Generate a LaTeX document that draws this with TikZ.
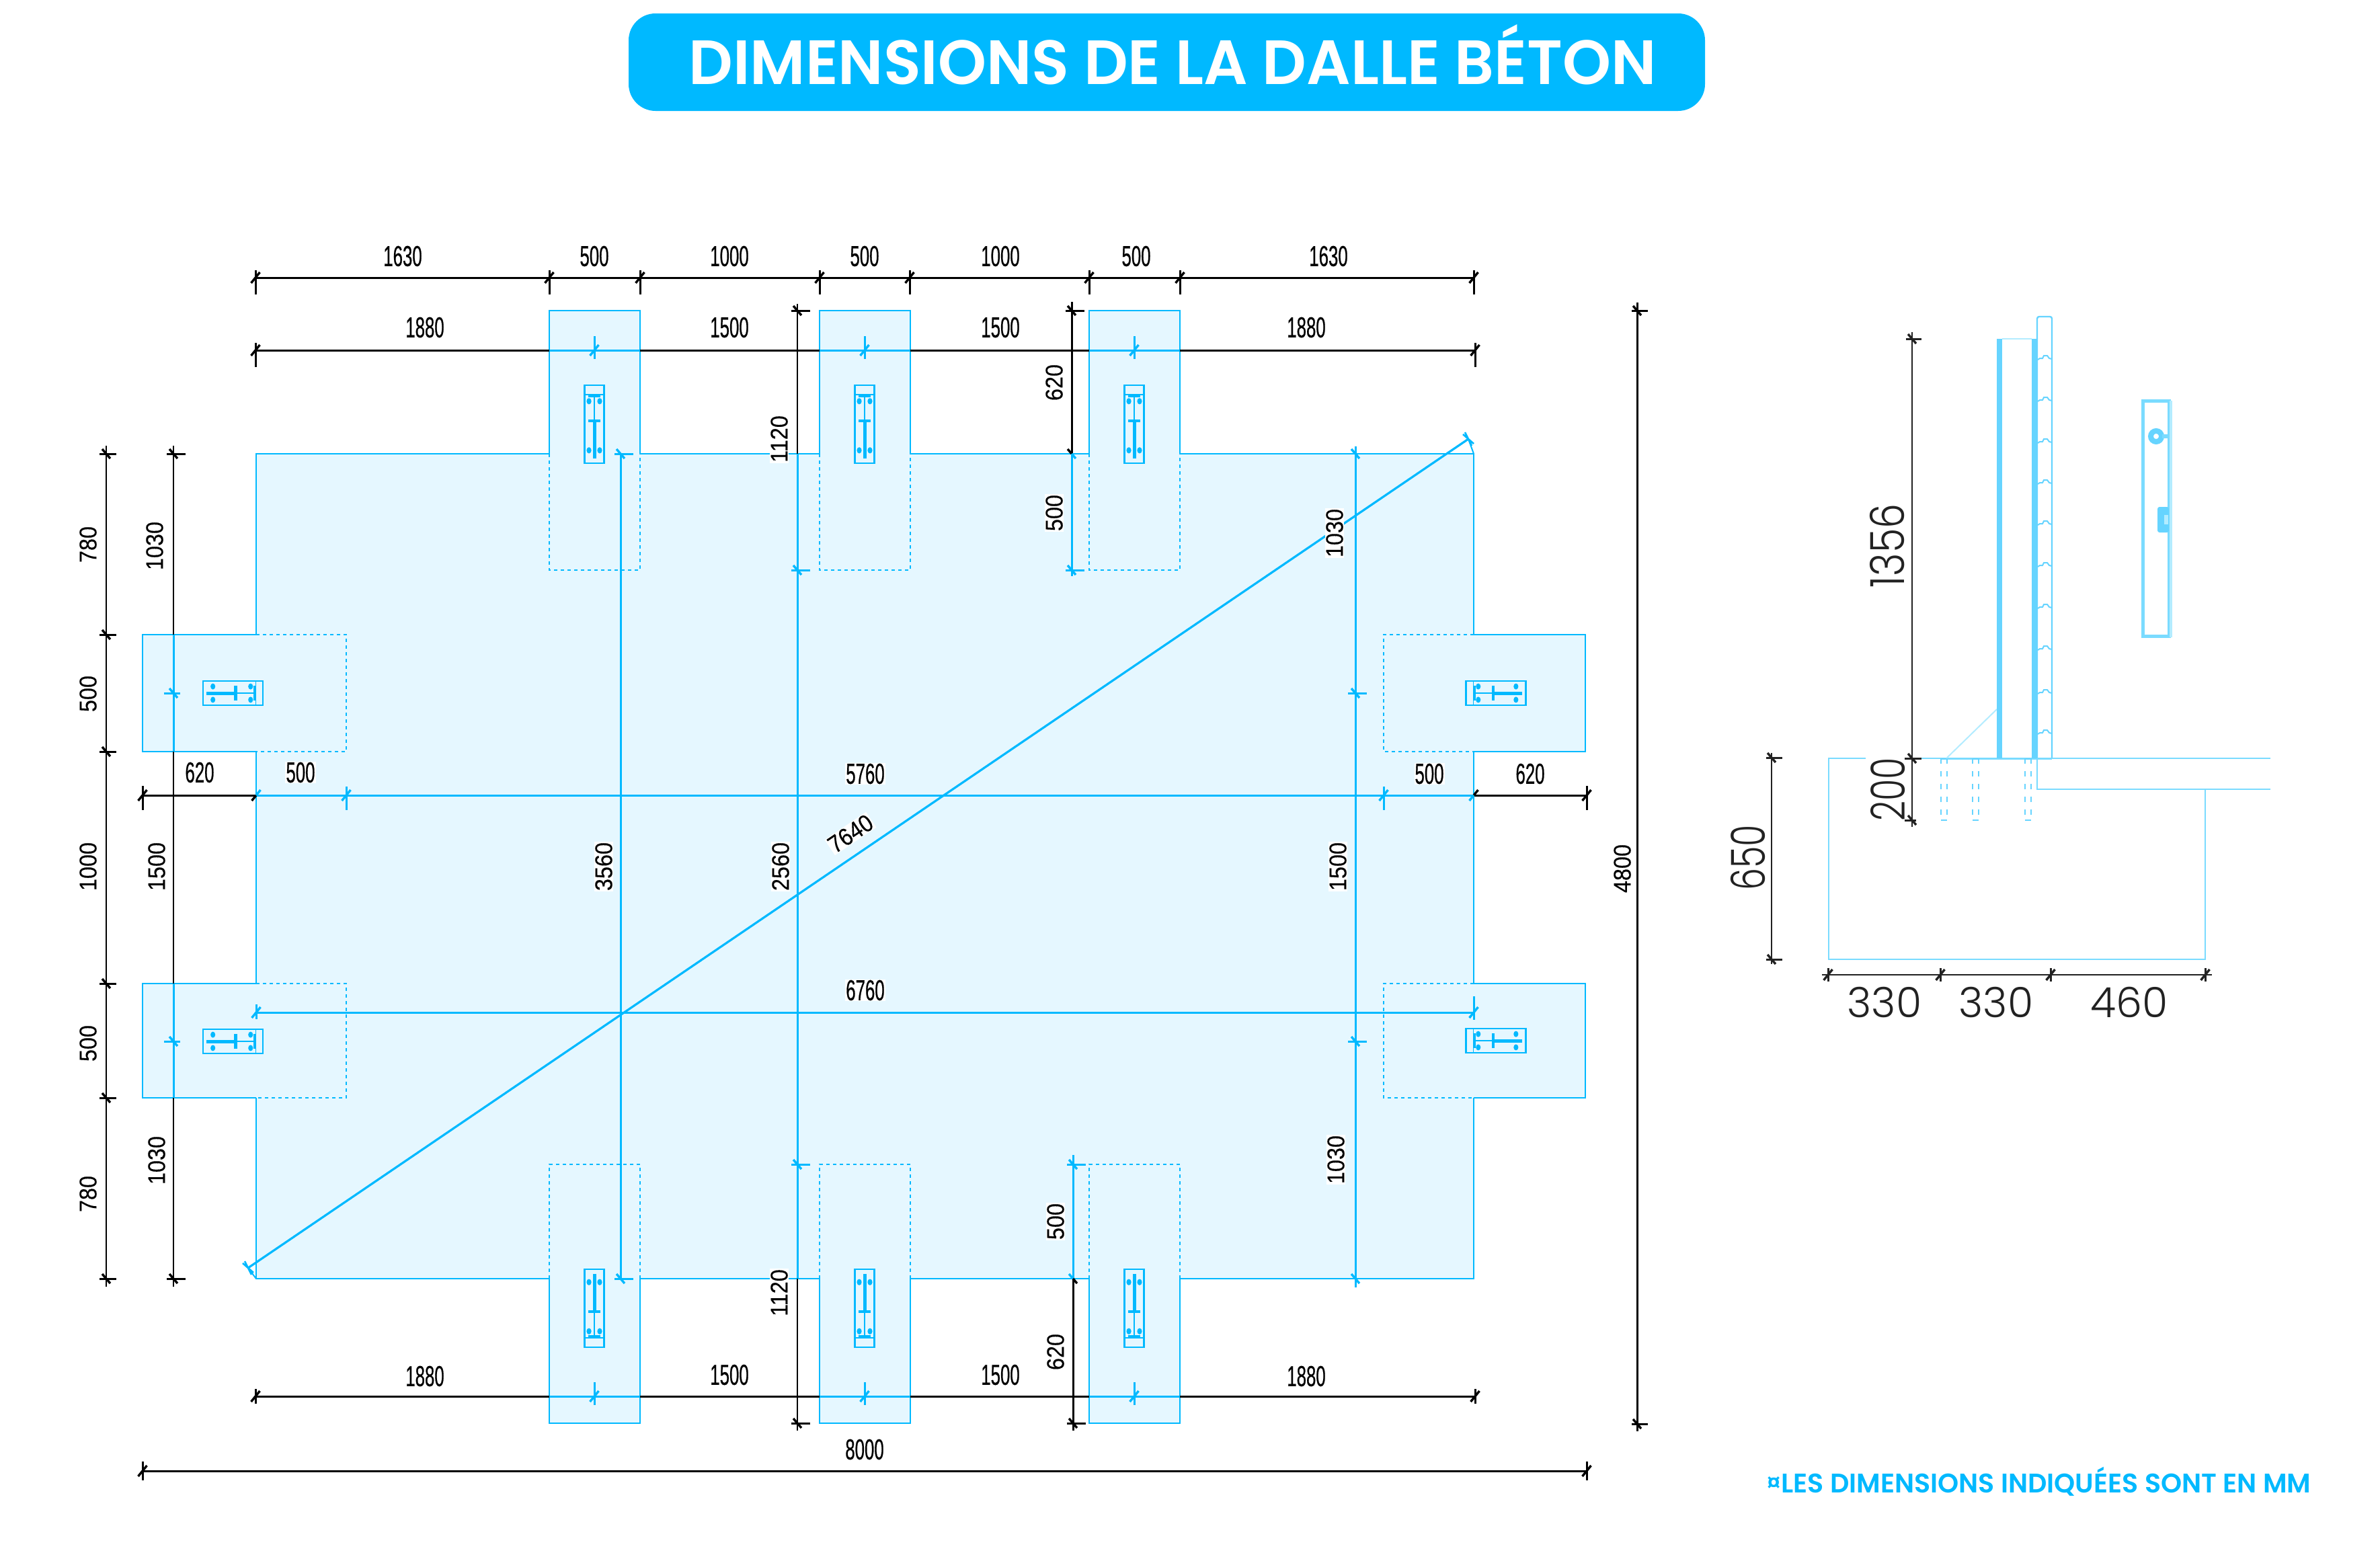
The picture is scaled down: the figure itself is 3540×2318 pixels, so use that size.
\documentclass[tikz,border=0pt]{standalone}
\usepackage{fontspec}
\setmainfont{Liberation Sans}
\newfontfamily\hfont[FakeStretch=0.6,FakeBold=0.5]{Liberation Sans}
\newfontfamily\vfont[FakeStretch=0.9,FakeBold=0.25]{Liberation Sans}
\newfontfamily\titlefont[FakeStretch=0.985]{Poppins SemiBold}
\newfontfamily\footfont[FakeStretch=0.99]{Poppins SemiBold}
\newfontfamily\sidefont{Poppins Light}
\newfontfamily\sidevfont[FakeStretch=0.75]{Poppins Light}
\newfontfamily\sidevfontb[FakeStretch=0.84]{Poppins Light}
\definecolor{bl}{HTML}{00B9FF}
\definecolor{slabfill}{HTML}{E5F7FF}
\definecolor{ink}{HTML}{000000}
\definecolor{sideink}{HTML}{222222}
\definecolor{sb}{HTML}{66D4FF}
\definecolor{sl}{HTML}{7ADBFF}
\definecolor{slt}{HTML}{B3ECFF}
\newcounter{labno}
\tikzset{
  hlab/.style={inner sep=1pt,text=black,font=\hfont\fontsize{43}{50}\selectfont},
  vlab/.style={inner sep=1pt,text=black,rotate=90,font=\vfont\fontsize{36}{42}\selectfont},
  halo/.style={fill=white},
  dimk/.style={ink,line width=3pt},
  dimv/.style={ink,line width=2.8pt},
  dimb/.style={bl,line width=3pt},
  edge/.style={bl,line width=2.8pt,line join=miter},
  dashedge/.style={bl,line width=2.8pt,dash pattern=on 5pt off 5pt},
  sideline/.style={sl,line width=2pt},
  sidedim/.style={sideink,line width=2pt},
  sidelab/.style={inner sep=0pt,text=sideink,font=\sidefont\fontsize{62}{70}\selectfont},
  sidevlab/.style={inner sep=0pt,text=sideink,rotate=90,font=\sidevfont\fontsize{70}{80}\selectfont},
  plateln/.style={bl,line width=2.8pt},
}
\newcommand\Lh[4][]{\stepcounter{labno}\node[hlab,#1] (lab\thelabno) at (#2,#3) {#4};}
\newcommand\Lv[4][]{\stepcounter{labno}\node[vlab,#1] (lab\thelabno) at (#2,#3) {#4};}
% horizontal dimension tick: colour, x, y, up, down
\newcommand\Th[5]{\draw[#1,line width=3pt] (#2,#3)+(0,-#4)--+(0,#5);\draw[#1,line width=3.4pt] (#2,#3)+(-6.5,8)--+(6.5,-8);}
% vertical dimension tick: colour, x, y, left, right
\newcommand\Tv[5]{\draw[#1,line width=3pt] (#2,#3)+(-#4,0)--+(#5,0);\draw[#1,line width=3.4pt] (#2,#3)+(-6,-7)--+(6,7);}
% plate: centre x, y, axis vector (half length), width vector (half width), in px
\newcommand\Plate[6]{%
\begin{scope}[shift={(#1,#2)},x={(#3pt,#4pt)},y={(#5pt,#6pt)}]
  \draw[plateln] (-1,-1) rectangle (1,1);
  \draw[bl,line width=5pt] (-.88,0)--(.09,0);
  \draw[bl,line width=2.8pt] (.09,0)--(.72,0);
  \draw[bl,line width=4.5pt] (.09,-.62)--(.09,.62);
  \draw[bl,line width=4pt] (.72,-.62)--(.72,.62);
  \draw[bl,line width=1.4pt] (.76,-1)--(.76,1);
  \foreach \a/\b in {-.67/-.55,-.67/.55,.59/-.55,.59/.55}{
    \fill[bl] (\a,\b) circle [x radius=.08,y radius=.25];
  }
\end{scope}}
\newcommand\Bump[1]{\draw[sb,line width=2pt] (3031,#1+3)--(3034,#1+1)--(3038,#1+1)--(3040,#1-3)--(3045,#1-3)--(3048,#1+1)--(3052,#1+2);}
\newcommand\Pile[1]{%
  \draw[sb,line width=2.4pt,dash pattern=on 8pt off 11pt] (#1,1128)--(#1,1212);
  \draw[sb,line width=2.4pt,dash pattern=on 8pt off 11pt] (#1+9,1128)--(#1+9,1212);
  \draw[sb,line width=2pt] (#1,1129)--(#1+9,1129);
  \draw[sb,line width=2pt] (#1,1220)--(#1+9,1220);}
\begin{document}
\begin{tikzpicture}[x=1pt,y=-1pt]
\useasboundingbox (0,0) rectangle (3540,2318);
\fill[white] (0,0) rectangle (3540,2318);
% title
\fill[bl,rounded corners=40pt] (935,20) rectangle (2536,165);
\node[inner sep=0pt,anchor=base,text=white,font=\titlefont\fontsize{93}{100}\selectfont] (title) at (1744,125) {DIMENSIONS DE LA DALLE BÉTON};
% slab
\draw[edge,fill=slabfill]
 (381,675)--(817,675)--(817,462)--(952,462)--(952,675)--(1219,675)--(1219,462)--(1354,462)--(1354,675)
 --(1620,675)--(1620,462)--(1755,462)--(1755,675)--(2192,675)--(2192,944)--(2358,944)--(2358,1118)--(2192,1118)
 --(2192,1463)--(2358,1463)--(2358,1633)--(2192,1633)--(2192,1902)--(1755,1902)--(1755,2117)--(1620,2117)--(1620,1902)
 --(1354,1902)--(1354,2117)--(1219,2117)--(1219,1902)--(952,1902)--(952,2117)--(817,2117)--(817,1902)--(381,1902)
 --(381,1633)--(212,1633)--(212,1463)--(381,1463)--(381,1118)--(212,1118)--(212,944)--(381,944)--cycle;
\fill[slabfill] (381,675) rectangle (2192,1902);
\draw[edge] (381,675)--(817,675) (952,675)--(1219,675) (1354,675)--(1620,675) (1755,675)--(2192,675)
 (381,1902)--(817,1902) (952,1902)--(1219,1902) (1354,1902)--(1620,1902) (1755,1902)--(2192,1902)
 (381,675)--(381,944) (381,1118)--(381,1463) (381,1633)--(381,1902)
 (2192,675)--(2192,944) (2192,1118)--(2192,1463) (2192,1633)--(2192,1902);
% dashed overlaps
\foreach \xa/\xb in {817/952,1219/1354,1620/1755}{
  \draw[dashedge] (\xa,675)--(\xa,848)--(\xb,848)--(\xb,675);
  \draw[dashedge] (\xa,1902)--(\xa,1732)--(\xb,1732)--(\xb,1902);
}
\draw[dashedge] (381,944)--(515,944)--(515,1118)--(381,1118);
\draw[dashedge] (381,1463)--(515,1463)--(515,1633)--(381,1633);
\draw[dashedge] (2192,944)--(2058,944)--(2058,1118)--(2192,1118);
\draw[dashedge] (2192,1463)--(2058,1463)--(2058,1633)--(2192,1633);
% plates
\Plate{884}{631}{0}{58}{14.5}{0}
\Plate{1286}{631}{0}{58}{14.5}{0}
\Plate{1687}{631}{0}{58}{14.5}{0}
\Plate{884}{1946}{0}{-58}{14.5}{0}
\Plate{1286}{1946}{0}{-58}{14.5}{0}
\Plate{1687}{1946}{0}{-58}{14.5}{0}
\Plate{346.5}{1031}{44.5}{0}{0}{18}
\Plate{346.5}{1549}{44.5}{0}{0}{18}
\Plate{2225}{1031}{-44.5}{0}{0}{18}
\Plate{2225}{1548}{-44.5}{0}{0}{18}
% top row 1
\draw[dimk] (380,413)--(2192,413);
\foreach \x in {380,817,952,1219,1353,1620,1755,2192}{\Th{ink}{\x}{413}{11}{25}}
\Lh{599}{381}{1630}\Lh{884}{381}{500}\Lh{1085}{381}{1000}\Lh{1286}{381}{500}\Lh{1488}{381}{1000}\Lh{1690}{381}{500}\Lh{1976}{381}{1630}
% top row 2
\draw[dimk] (380,521)--(2194,521);
\draw[dimb] (817,521)--(952,521) (1219,521)--(1354,521) (1620,521)--(1755,521);
\Th{ink}{380}{521}{11}{25}\Th{ink}{2194}{521}{11}{25}
\foreach \x in {884,1286,1687}{\Th{bl}{\x}{521}{21}{13}}
\Lh{632}{487}{1880}\Lh{1085}{487}{1500}\Lh{1488}{487}{1500}\Lh{1943}{487}{1880}
% bottom row 1880
\draw[dimk] (380,2077)--(2194,2077);
\draw[dimb] (817,2077)--(952,2077) (1219,2077)--(1354,2077) (1620,2077)--(1755,2077);
\Th{ink}{380}{2077}{11}{11}\Th{ink}{2194}{2077}{11}{11}
\foreach \x in {884,1286,1687}{\Th{bl}{\x}{2077}{21}{13}}
\Lh{632}{2047}{1880}\Lh{1085}{2045}{1500}\Lh{1488}{2045}{1500}\Lh{1943}{2047}{1880}
% overall 8000
\draw[dimk] (212,2188)--(2360,2188);
\Th{ink}{212}{2188}{14}{14}\Th{ink}{2360}{2188}{14}{14}
\Lh{1286}{2156}{8000}
% row 1183
\draw[dimk] (212,1183)--(381,1183) (2192,1183)--(2360,1183);
\draw[dimb] (381,1183)--(2192,1183);
\Th{ink}{212}{1183}{14}{22}\Th{ink}{2360}{1183}{14}{22}
\draw[ink,line width=3.4pt] (381,1183)+(-6.5,8)--+(0,0);\draw[bl,line width=3.4pt] (381,1183)+(0,0)--+(6.5,-8);
\Th{bl}{515}{1183}{13}{22}\Th{bl}{2058}{1183}{13}{22}
\draw[ink,line width=3.4pt] (2192,1183)+(0,0)--+(6.5,-8);\draw[bl,line width=3.4pt] (2192,1183)+(-6.5,8)--+(0,0);
% row 6760
\draw[dimb] (381,1506)--(2192,1506);
\Th{bl}{381}{1506}{12}{10}\Th{bl}{2192}{1506}{24}{11}
% left dims
\draw[dimv] (158,663)--(158,1914);
\foreach \y in {675,944,1118,1463,1633,1902}{\Tv{ink}{158}{\y}{10}{15}}
\draw[dimv] (258,663)--(258,1914);
\draw[bl,line width=3pt] (258,944)--(258,1118) (258,1463)--(258,1633);
\Tv{ink}{258}{675}{10}{18}\Tv{ink}{258}{1902}{10}{18}
\Tv{bl}{258}{1031}{14}{10}\Tv{bl}{258}{1549}{14}{10}
% column 923 (3560)
\draw[dimb] (923,675)--(923,1902);
\Tv{bl}{923}{675}{9}{19}\Tv{bl}{923}{1902}{9}{19}
% column 1186 (1120 / 2560)
\draw[dimv] (1186,452)--(1186,675) (1186,1902)--(1186,2128);
\draw[bl,line width=3pt] (1186,675)--(1186,1902);
\Tv{ink}{1186}{462}{9}{19}\Tv{ink}{1186}{2117}{9}{19}
\Tv{bl}{1186}{848}{9}{19}\Tv{bl}{1186}{1732}{9}{19}
% column 1594 (620/500)
\draw[ink,line width=3pt] (1594,449)--(1594,675) (1596,1902)--(1596,2128);
\draw[bl,line width=3pt] (1594,675)--(1594,857) (1596,1718)--(1596,1902);
\Tv{ink}{1594}{462}{9}{19}\Tv{ink}{1596}{2117}{9}{19}
\Tv{bl}{1594}{848}{9}{19}\Tv{bl}{1596}{1732}{9}{19}
\draw[ink,line width=3.4pt] (1594,675)+(-6,-7)--+(0,0);\draw[bl,line width=3.4pt] (1594,675)+(0,0)--+(6,7);
\draw[bl,line width=3.4pt] (1596,1902)+(-6,-7)--+(0,0);\draw[ink,line width=3.4pt] (1596,1902)+(0,0)--+(6,7);
% column 2016
\draw[dimb] (2016,664)--(2016,1915);
\draw[bl,line width=3.4pt] (2016,675)+(-6,-7)--+(6,7) (2016,1902)+(-6,-7)--+(6,7);
\Tv{bl}{2016}{1031}{11}{17}\Tv{bl}{2016}{1549}{11}{17}
% far right
\draw[ink,line width=3pt] (2435,450)--(2435,2129);
\Tv{ink}{2435}{462}{8}{16}\Tv{ink}{2435}{2118}{8}{16}
% diagonal
\draw[bl,line width=3.2pt] (369,1886)--(2184,653);
\draw[bl,line width=2pt] (2184,653)--(2192,675) (369,1886)--(381,1902);
\draw[bl,line width=2.6pt] (2184,653)+(-5,-10)--+(5,10) (2184,653)+(-8,-7)--+(8,7);
\draw[bl,line width=2.6pt] (369,1886)+(-5,-10)--+(5,10) (369,1886)+(-8,-7)--+(8,7);
% labels in the plan
\Lv{131}{810}{780}\Lv{131}{1032}{500}\Lv{131}{1289}{1000}\Lv{131}{1552}{500}\Lv{131}{1776}{780}
\Lv{230}{812}{1030}\Lv{233}{1289}{1500}\Lv{233}{1726}{1030}
\Lv[halo]{1159}{653}{1120}\Lv[halo]{1159}{1923}{1120}\Lv[halo]{1161}{1289}{2560}
\Lv[halo]{898}{1289}{3560}
\Lv{1568}{569}{620}\Lv[halo]{1568}{763}{500}\Lv[halo]{1570}{1817}{500}\Lv{1570}{2011}{620}
\Lv[halo]{1985}{793}{1030}\Lv[halo]{1990}{1289}{1500}\Lv[halo]{1987}{1725}{1030}
\Lv{2413}{1292}{4800}
\Lh{297}{1149}{620}\Lh[halo]{447}{1149}{500}\Lh[halo]{1287}{1151}{5760}\Lh[halo]{2126}{1151}{500}\Lh{2276}{1151}{620}
\Lh[halo]{1287}{1473}{6760}
\node[inner sep=1pt,text=black,fill=white,rotate=34,font=\vfont\fontsize{36}{42}\selectfont] (lab7640) at (1265,1240) {7640};
% side view: outline
\draw[sideline] (2775,1128)--(2720,1128)--(2720,1427)--(3280,1427)--(3280,1174);
\draw[sideline] (2858,1128)--(3377,1128);
\draw[sideline] (3030,1128)--(3030,1174)--(3377,1174);
\draw[sl,line width=3pt] (2887,1128)--(3052,1128);
\draw[slt,line width=2pt] (2895,1128)--(2970,1055);
\fill[sb] (2970,504) rectangle (2978,1128);
\fill[sb] (3022,504) rectangle (3030,1128);
\draw[slt,line width=2pt] (2978,504)--(3022,504);
\draw[sb,line width=2.4pt,rounded corners=3pt] (3030,1127)--(3030,471)--(3052,471)--(3052,1127);
\foreach \y in {532,594,656,717,778,840,902,964,1029,1089}{\Bump{\y}}
\Pile{2887}\Pile{2934}\Pile{3012}
% side elevation
\draw[sl,line width=5pt] (3187,596) rectangle (3226,946);
\draw[slt,line width=4pt] (3229,596)--(3229,948);
\draw[sb,line width=8pt] (3207,649) circle (8);
\draw[sl,line width=6pt] (3216,649)--(3226,649);
\fill[sb,rounded corners=3pt] (3209,754) rectangle (3226,792);
\fill[slt] (3219,766) rectangle (3225,780);
% side dims
\draw[sidedim] (2844,494)--(2844,1230);
\Tv{sideink}{2844}{504}{9}{14}\Tv{sideink}{2844}{1128}{11}{14}\Tv{sideink}{2844}{1220}{11}{6}
\draw[sidedim] (2635,1120)--(2635,1434);
\Tv{sideink}{2635}{1127}{8}{16}\Tv{sideink}{2635}{1427}{8}{16}
\draw[sidedim] (2710,1450)--(3290,1450);
\Th{sideink}{2719}{1450}{10}{10}\Th{sideink}{2886}{1450}{10}{10}\Th{sideink}{3050}{1450}{10}{10}\Th{sideink}{3280}{1450}{10}{10}
\node[sidelab] (side330a) at (2803,1491) {330};
\node[sidelab] (side330b) at (2969,1491) {330};
\node[sidelab] (side460) at (3167,1491) {460};
\node[sidevlab,font=\sidevfontb\fontsize{70}{80}\selectfont] (side1356) at (2807,812) {1356};
\node[sidevlab] (side200) at (2808,1174) {200};
\node[sidevlab] (side650) at (2600,1276) {650};
% footer
\node[inner sep=0pt,anchor=base west,text=bl,font=\footfont\fontsize{40}{46}\selectfont] (foot) at (2627,2220) {¤LES DIMENSIONS INDIQUÉES SONT EN MM};
\end{tikzpicture}
\end{document}
